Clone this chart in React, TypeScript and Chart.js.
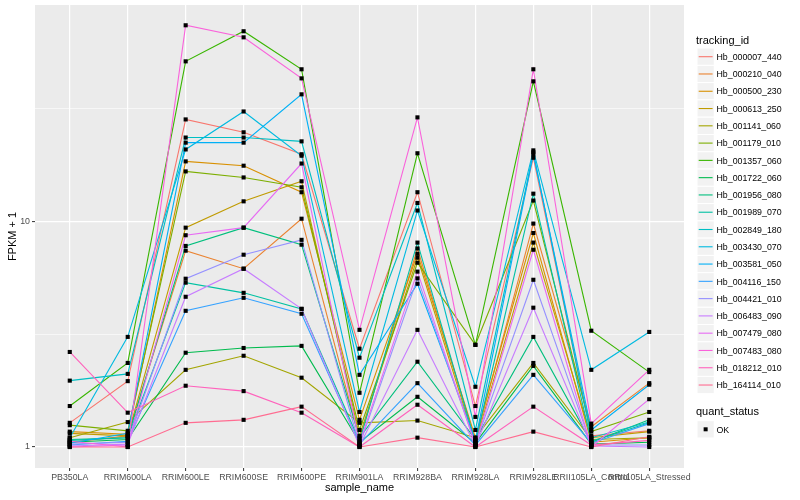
import React, { useEffect, useRef } from 'react';
import { Chart, registerables } from 'chart.js';

Chart.register(...registerables);

const categories = [
  'PB350LA', 'RRIM600LA', 'RRIM600LE', 'RRIM600SE', 'RRIM600PE', 'RRIM901LA',
  'RRIM928BA', 'RRIM928LA', 'RRIM928LE', 'RRII105LA_Control', 'RRII105LA_Stressed',
];

const trackingIds = [
  'Hb_000007_440', 'Hb_000210_040', 'Hb_000500_230', 'Hb_000613_250', 'Hb_001141_060',
  'Hb_001179_010', 'Hb_001357_060', 'Hb_001722_060', 'Hb_001956_080', 'Hb_001989_070',
  'Hb_002849_180', 'Hb_003430_070', 'Hb_003581_050', 'Hb_004116_150', 'Hb_004421_010',
  'Hb_006483_090', 'Hb_007479_080', 'Hb_007483_080', 'Hb_018212_010', 'Hb_164114_010',
];

// FPKM + 1 per sample (same order as categories)
const hb000007_440 = [1.28, 1.96, 28.4, 24.9, 19.9, 2.73, 13.5, 1.52, 19.2, 1.12, 1.18];
const hb000210_040 = [1.05, 1.12, 7.43, 6.18, 10.3, 1.08, 7.6, 1.06, 9.8, 1.23, 1.92];
const hb000500_230 = [1.17, 1.14, 18.5, 17.7, 13.5, 1.32, 7.2, 1.1, 8.9, 1.05, 1.1];
const hb000613_250 = [1.15, 1.12, 9.4, 12.3, 15.1, 1.12, 6.92, 1.04, 8.07, 1.1, 1.17];
const hb001141_060 = [1.1, 1.29, 2.2, 2.54, 2.03, 1.28, 1.31, 1.1, 2.36, 1.08, 1.1];
const hb001179_010 = [1.25, 1.18, 16.7, 15.7, 14.2, 1.19, 6.57, 2.84, 12.4, 1.17, 1.43];
const hb001357_060 = [1.52, 2.36, 51.4, 69.9, 47.4, 1.74, 20.1, 2.84, 41.9, 3.28, 2.15];
const hb001722_060 = [1.05, 1.08, 2.62, 2.75, 2.81, 1.05, 1.67, 1.04, 2.29, 1.03, 1.05];
const hb001956_080 = [1.08, 1.1, 7.8, 9.4, 7.9, 1.1, 2.39, 1.08, 3.08, 1.05, 1.32];
const hb001989_070 = [1.07, 1.1, 5.36, 4.83, 4.1, 1.06, 8.07, 1.05, 13.3, 1.06, 1.28];
const hb002849_180 = [1.97, 2.11, 23.6, 23.6, 22.7, 2.49, 12.1, 1.19, 20.3, 1.1, 1.29];
const hb003430_070 = [1.1, 3.08, 20.9, 30.8, 19.6, 1.43, 11.2, 1.85, 20.7, 2.2, 3.24];
const hb003581_050 = [1.04, 1.15, 22.4, 22.4, 36.7, 2.09, 5.3, 1.07, 19.9, 1.19, 1.89];
const hb004116_150 = [1.02, 1.06, 4.02, 4.59, 3.9, 1.03, 1.92, 1.02, 2.09, 1.04, 1.27];
const hb004421_010 = [1.03, 1.05, 5.58, 7.13, 8.3, 1.02, 5.6, 1.03, 5.52, 1.02, 1.02];
const hb006483_090 = [1.01, 1.03, 4.64, 6.18, 4.1, 1.01, 3.31, 1.01, 4.15, 1.01, 1.0];
const hb007479_080 = [1.0, 1.02, 8.7, 9.4, 18.1, 1.04, 6.0, 1.02, 7.5, 1.0, 1.63];
const hb007483_080 = [1.06, 1.0, 74.3, 65.7, 43.2, 3.31, 29.0, 1.36, 47.4, 1.27, 2.2];
const hb018212_010 = [2.64, 1.42, 1.87, 1.77, 1.42, 1.0, 1.54, 1.0, 1.51, 1.02, 1.07];
const hb164114_010 = [1.0, 1.0, 1.28, 1.32, 1.51, 1.0, 1.1, 1.0, 1.17, 1.0, 1.11];

const seriesValues = [
  hb000007_440, hb000210_040, hb000500_230, hb000613_250, hb001141_060,
  hb001179_010, hb001357_060, hb001722_060, hb001956_080, hb001989_070,
  hb002849_180, hb003430_070, hb003581_050, hb004116_150, hb004421_010,
  hb006483_090, hb007479_080, hb007483_080, hb018212_010, hb164114_010,
];

const seriesColors = [
  '#F8766D', '#EA8331', '#D89000', '#C09B00', '#A3A500',
  '#7CAE00', '#39B600', '#00BB4E', '#00BF7D', '#00C1A3',
  '#00BFC4', '#00BAE0', '#00B0F6', '#35A2FF', '#9590FF',
  '#C77CFF', '#E76BF3', '#FA62DB', '#FF62BC', '#FF6C91',
];

const yMajorTicks = [1, 10];
const yMinorTicks = [3.1623, 31.623];
const yLimits = [0.807, 91.4];
const quantStatus = ['OK'];

const FONT = '"Liberation Sans", Arial, Helvetica, sans-serif';

const ggPlugin = {
  id: 'ggDecor',
  beforeDraw(chart: any) {
    const { ctx, chartArea: a } = chart;
    ctx.save();
    ctx.fillStyle = '#FFFFFF';
    ctx.fillRect(0, 0, chart.width, chart.height);
    ctx.fillStyle = '#EBEBEB';
    ctx.fillRect(a.left, a.top, a.right - a.left, a.bottom - a.top);
    ctx.restore();
  },
  afterDraw(chart: any) {
    const { ctx, chartArea: a } = chart;
    ctx.save();
    ctx.fillStyle = '#000000';
    ctx.textBaseline = 'alphabetic';

    // axis titles
    ctx.font = `11px ${FONT}`;
    ctx.textAlign = 'center';
    ctx.fillText('sample_name', (a.left + a.right) / 2, 491);
    ctx.save();
    ctx.translate(15.5, (a.top + a.bottom) / 2);
    ctx.rotate(-Math.PI / 2);
    ctx.fillText('FPKM + 1', 0, 0);
    ctx.restore();

    // legend: tracking_id
    ctx.textAlign = 'left';
    ctx.font = `11px ${FONT}`;
    ctx.fillText('tracking_id', 696, 44);
    const key = 17.28;
    trackingIds.forEach((id, i) => {
      const cy = 56.7 + key * i;
      ctx.fillStyle = '#F2F2F2';
      ctx.fillRect(697, cy - key / 2, key, key);
      ctx.strokeStyle = '#FFFFFF';
      ctx.lineWidth = 1;
      ctx.strokeRect(697, cy - key / 2, key, key);
      ctx.strokeStyle = seriesColors[i];
      ctx.lineWidth = 1.1;
      ctx.beginPath();
      ctx.moveTo(698.7, cy);
      ctx.lineTo(712.6, cy);
      ctx.stroke();
      ctx.fillStyle = '#000000';
      ctx.font = `8.8px ${FONT}`;
      ctx.fillText(id, 716.5, cy + 3.2);
    });

    // legend: quant_status
    ctx.font = `11px ${FONT}`;
    ctx.fillStyle = '#000000';
    ctx.fillText('quant_status', 696, 415);
    quantStatus.forEach((s, i) => {
      const cy = 429.3 + key * i;
      ctx.fillStyle = '#F2F2F2';
      ctx.fillRect(697, cy - key / 2, key, key);
      ctx.strokeStyle = '#FFFFFF';
      ctx.lineWidth = 1;
      ctx.strokeRect(697, cy - key / 2, key, key);
      ctx.fillStyle = '#000000';
      ctx.fillRect(697 + key / 2 - 2, cy - 2, 4, 4);
      ctx.font = `8.8px ${FONT}`;
      ctx.fillText(s, 716.5, cy + 3.2);
    });
    ctx.restore();
  },
};

export default function App() {
  const canvasRef = useRef<HTMLCanvasElement | null>(null);

  useEffect(() => {
    if (!canvasRef.current) return;
    const lineSets = seriesValues.map((vals, i) => ({
      label: trackingIds[i],
      data: vals.map((v, j) => ({ x: j, y: v })),
      borderColor: seriesColors[i],
      backgroundColor: seriesColors[i],
      borderWidth: 1.1,
      pointRadius: 0,
      fill: false,
      tension: 0,
      order: 100 - i,
    }));
    const pointSets = seriesValues.map((vals, i) => ({
      label: trackingIds[i] + ' ' + quantStatus[0],
      data: vals.map((v, j) => ({ x: j, y: v })),
      showLine: false,
      pointStyle: 'rect',
      pointRadius: 2.9,
      pointBackgroundColor: '#000000',
      pointBorderWidth: 0,
      borderColor: '#000000',
      order: 0,
    }));

    const chart = new Chart(canvasRef.current, {
      type: 'line',
      data: { datasets: [...lineSets, ...pointSets] as any },
      plugins: [ggPlugin as any],
      options: {
        animation: false,
        responsive: false,
        devicePixelRatio: 1,
        layout: { padding: { left: 0, right: 116, top: 5, bottom: 0 } },
        plugins: { legend: { display: false }, tooltip: { enabled: false } },
        scales: {
          x: {
            type: 'linear',
            min: -0.6,
            max: categories.length - 1 + 0.6,
            afterBuildTicks: (scale: any) => {
              scale.ticks = categories.map((_, i) => ({ value: i }));
            },
            afterFit: (scale: any) => {
              scale.height = 32;
              scale.paddingLeft = 0;
              scale.paddingRight = 0;
            },
            ticks: {
              autoSkip: false,
              maxRotation: 0,
              minRotation: 0,
              padding: 1.5,
              color: '#4D4D4D',
              font: { family: FONT, size: 8.8 },
              callback: (value: any) => categories[value as number] ?? '',
            },
            grid: {
              color: '#FFFFFF',
              lineWidth: 1.2,
              tickColor: '#333333',
              tickLength: 3,
              tickWidth: 1,
            },
            border: { display: false },
          },
          y: {
            type: 'logarithmic',
            min: yLimits[0],
            max: yLimits[1],
            afterBuildTicks: (scale: any) => {
              scale.ticks = [...yMajorTicks, ...yMinorTicks]
                .sort((p, q) => p - q)
                .map((v) => ({ value: v }));
            },
            afterFit: (scale: any) => {
              scale.width = 35;
              scale.paddingTop = 0;
              scale.paddingBottom = 0;
            },
            ticks: {
              padding: 2,
              color: '#4D4D4D',
              font: { family: FONT, size: 8.8 },
              callback: (value: any) => (yMajorTicks.includes(value) ? String(value) : ''),
            },
            grid: {
              color: '#FFFFFF',
              lineWidth: (ctx: any) => (yMajorTicks.includes(ctx.tick?.value) ? 1.2 : 0.6),
              tickColor: (ctx: any) => (yMajorTicks.includes(ctx.tick?.value) ? '#333333' : 'rgba(0,0,0,0)'),
              tickLength: 3,
              tickWidth: 1,
            },
            border: { display: false },
          },
        },
      } as any,
    });
    return () => chart.destroy();
  }, []);

  return (
    <div style={{ position: 'fixed', left: 0, top: 0, width: 800, height: 500, background: '#FFFFFF' }}>
      <canvas ref={canvasRef} width={800} height={500} style={{ display: 'block', width: 800, height: 500 }} />
    </div>
  );
}
